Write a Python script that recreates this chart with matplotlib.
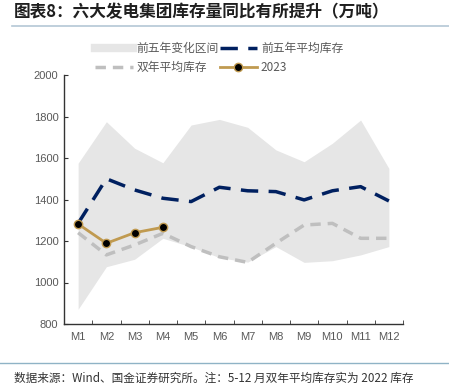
import matplotlib
matplotlib.use("Agg")
import matplotlib.pyplot as plt
from matplotlib.lines import Line2D
import numpy as np

months = ["M1","M2","M3","M4","M5","M6","M7","M8","M9","M10","M11","M12"]
band_upper = [1575, 1775, 1647, 1577, 1759, 1786, 1748, 1639, 1582, 1671, 1783, 1550]
band_lower = [871, 1076, 1112, 1213, 1172, 1120, 1098, 1173, 1097, 1105, 1133, 1173]
avg5 = [1285, 1500, 1446, 1406, 1390, 1459, 1442, 1438, 1398, 1442, 1462, 1393]
avg2 = [1240, 1133, 1181, 1237, 1173, 1124, 1097, 1189, 1277, 1285, 1213, 1213]
y2023 = [1282, 1189, 1240, 1266]

plt.rcParams['font.family'] = ['Noto Sans CJK SC', 'DejaVu Sans']

fig = plt.figure(figsize=(4.49, 3.91), dpi=100)
ax = fig.add_axes([64/449, 1-324/391, (403-64)/449, (324-75)/391])

x = np.arange(len(months))
band_c = '#E6E6E6'
blue = '#002060'
gray = '#BFBFBF'
gold = '#C09A50'

ax.fill_between(x, band_lower, band_upper, color=band_c, lw=0, zorder=1)
ax.plot(x, avg5, color=blue, lw=2.5, dashes=(5, 3), zorder=3)
ax.plot(x, avg2, color=gray, lw=2.5, dashes=(3, 2), zorder=2)
ax.plot(x[:len(y2023)], y2023, color=gold, lw=2, marker='o', ms=6,
        markerfacecolor='black', markeredgecolor=gold, markeredgewidth=1, zorder=4)

ax.set_xlim(-0.5, 11.5)
ax.set_ylim(800, 2000)
ax.set_yticks(range(800, 2001, 200))
ax.set_xticks(x)
ax.set_xticklabels(months)
ax.set_xticks(np.arange(0.5, 12, 1), minor=True)
ax.tick_params(axis='x', which='major', length=0, pad=6)
ax.tick_params(axis='x', which='minor', direction='in', length=3, color='#333333')
ax.tick_params(axis='y', direction='in', length=3, color='#333333', pad=4)
for lab in ax.get_xticklabels() + ax.get_yticklabels():
    lab.set_fontfamily(['Liberation Sans', 'DejaVu Sans'])
    lab.set_fontsize(8)
    lab.set_color('#595959')
for s in ['top', 'right']:
    ax.spines[s].set_visible(False)
for s in ['left', 'bottom']:
    ax.spines[s].set_color('#333333')
    ax.spines[s].set_linewidth(1)

h_band = Line2D([0], [0], color=band_c, lw=6)
h_avg5 = Line2D([0], [0], color=blue, lw=2.5, dashes=(5, 3))
h_avg2 = Line2D([0], [0], color=gray, lw=2.5, dashes=(3, 2))
h_2023 = Line2D([0], [0], color=gold, lw=2, marker='o', ms=6, markerfacecolor='black',
                markeredgecolor=gold)
handles = [h_band, h_avg2, h_avg5, h_2023]
labels = ['前五年变化区间', '双年平均库存', '前五年平均库存', '2023']
leg = fig.legend(handles, labels, ncol=2, loc='center',
                 bbox_to_anchor=(219/449, 1-58/391), frameon=False,
                 fontsize=8.5, handlelength=3.2, columnspacing=0.1,
                 handletextpad=0.3, labelspacing=0.5)
for t in leg.get_texts():
    t.set_color('#595959')

fig.text(14/449, 1-12/391, '图表8：六大发电集团库存量同比有所提升（万吨）',
         fontsize=12, fontweight='bold', style='italic', color='#1F1F1F',
         va='center', ha='left')
fig.add_artist(Line2D([12/449, 1], [1-26/391, 1-26/391], color='#B4C7D6', lw=1.2))
fig.add_artist(Line2D([0, 1], [1-363/391, 1-363/391], color='#8FB3C6', lw=1))
fig.text(14/449, 1-378/391, '数据来源：Wind、国金证券研究所。注：5-12 月双年平均库存实为 2022 库存',
         fontsize=8.4, color='#333333', va='center', ha='left')

fig.savefig('out.png', dpi=100)
